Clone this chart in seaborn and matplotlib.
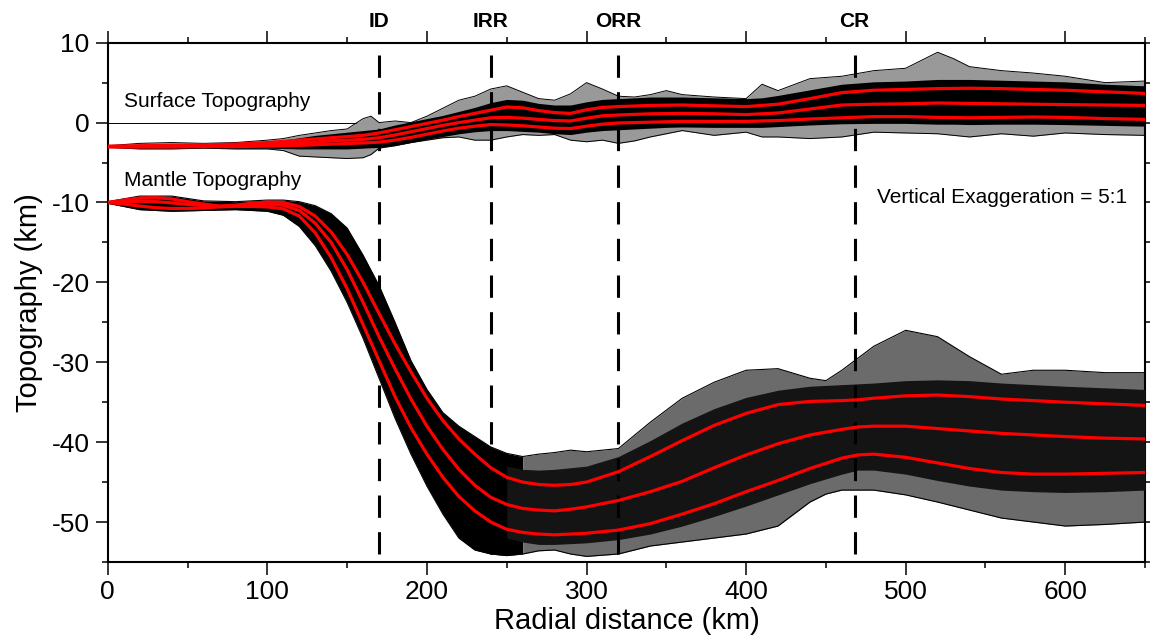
import numpy as np
import pandas as pd
import matplotlib
matplotlib.use("Agg")
import matplotlib.pyplot as plt
import matplotlib.transforms as mtransforms
import seaborn as sns

# ---- mantle topography: mean and +/- 1 sigma (red curves) ----
mantle_x = [0, 10, 20, 30, 40, 50, 60, 70, 80, 90, 100, 110, 120, 130, 140, 150, 160, 170,
            180, 190, 200, 210, 220, 230, 240, 250, 260, 270, 280, 290, 300, 320, 340, 360,
            380, 400, 420, 440, 460, 470, 480, 500, 520, 540, 560, 580, 600, 625, 650]
mantle_upper = [-10.0, -9.7, -9.45, -9.4, -9.55, -9.9, -10.2, -10.45, -10.35, -10.1, -9.95,
                -10.0, -10.5, -11.7, -13.7, -16.5, -20.0, -23.9, -27.7, -31.2, -34.5, -37.3,
                -39.6, -41.5, -43.2, -44.4, -45.0, -45.3, -45.4, -45.3, -45.0, -43.7, -41.8,
                -39.8, -37.9, -36.4, -35.3, -34.9, -34.8, -34.7, -34.5, -34.2, -34.1, -34.3,
                -34.6, -34.8, -35.0, -35.2, -35.4]
mantle_mean = [-10.0, -9.9, -9.85, -9.9, -10.05, -10.25, -10.4, -10.5, -10.4, -10.25, -10.2,
               -10.35, -11.0, -12.6, -15.0, -18.4, -22.5, -26.8, -30.8, -34.6, -38.0, -40.9,
               -43.4, -45.4, -46.9, -47.8, -48.3, -48.5, -48.6, -48.4, -48.1, -47.3, -46.2,
               -44.9, -43.2, -41.6, -40.2, -39.1, -38.4, -38.1, -38.0, -38.0, -38.3, -38.6,
               -38.9, -39.1, -39.3, -39.5, -39.6]
mantle_lower = [-10.0, -10.2, -10.45, -10.65, -10.75, -10.75, -10.7, -10.55, -10.5, -10.5,
                -10.55, -10.8, -11.7, -13.8, -16.9, -20.8, -25.3, -29.8, -34.3, -38.2, -41.5,
                -44.4, -46.8, -48.6, -50.0, -50.9, -51.3, -51.5, -51.6, -51.5, -51.4, -51.0,
                -50.2, -49.0, -47.7, -46.2, -44.8, -43.3, -42.0, -41.6, -41.5, -41.9, -42.6,
                -43.3, -43.8, -44.0, -44.0, -43.9, -43.8]

# ---- mantle ensemble: full spread of the individual models ----
mantle_env_x = [0, 20, 40, 60, 80, 100, 110, 120, 130, 140, 150, 160, 170, 180, 190, 200, 210,
                220, 230, 240, 250, 260, 270, 280, 290, 300, 320, 340, 360, 380, 400, 420, 440,
                450, 460, 480, 500, 520, 540, 560, 580, 600, 625, 650]
mantle_env_min = [-10.1, -10.9, -11.1, -11.0, -10.9, -11.1, -11.6, -13.0, -15.4, -18.6, -22.5,
                  -27.0, -32.0, -37.0, -41.5, -45.5, -49.0, -52.0, -53.5, -54.0, -54.2, -54.0,
                  -53.6, -53.5, -54.0, -54.3, -54.0, -53.0, -52.5, -52.0, -51.5, -50.5, -47.5,
                  -46.5, -46.0, -46.0, -46.6, -47.5, -48.5, -49.5, -50.0, -50.5, -50.3, -50.0]
mantle_env_max = [-9.9, -9.2, -9.2, -9.8, -9.9, -9.7, -9.7, -9.9, -10.4, -11.4, -13.2, -16.6,
                  -20.4, -25.0, -29.8, -33.4, -36.3, -38.0, -39.3, -40.6, -41.4, -41.8, -41.5,
                  -41.3, -41.0, -41.2, -40.8, -37.5, -34.5, -32.5, -31.0, -30.8, -32.0, -32.3,
                  -31.0, -28.0, -26.0, -26.8, -29.3, -31.5, -31.0, -31.0, -31.3, -31.3]
# densest part of the mantle ensemble beyond the slope
mantle_core_x = [250, 260, 270, 280, 290, 300, 320, 340, 360, 380, 400, 420, 440, 460, 470,
                 480, 500, 520, 540, 560, 580, 600, 625, 650]
mantle_core_lo = [-52.0, -52.5, -52.8, -52.8, -52.7, -52.6, -52.2, -51.5, -50.5, -49.3, -48.0,
                  -46.6, -45.2, -44.0, -43.5, -43.5, -44.0, -44.8, -45.5, -46.0, -46.2, -46.3,
                  -46.2, -46.0]
mantle_core_hi = [-43.0, -43.4, -43.5, -43.4, -43.2, -43.0, -41.8, -39.8, -37.6, -35.8, -34.4,
                  -33.5, -33.0, -32.8, -32.7, -32.6, -32.3, -32.2, -32.3, -32.6, -32.8, -33.0,
                  -33.2, -33.4]

# ---- surface topography: mean and +/- 1 sigma ----
surf_x = [0, 20, 40, 60, 80, 100, 120, 140, 160, 170, 180, 190, 200, 210, 220, 230, 240, 250,
          260, 270, 280, 290, 300, 310, 320, 340, 360, 380, 400, 420, 440, 460, 480, 500, 520,
          540, 560, 580, 600, 625, 650]
surf_upper = [-2.95, -2.9, -2.85, -2.8, -2.7, -2.5, -2.2, -1.9, -1.6, -1.3, -0.9, -0.5, -0.1,
              0.3, 0.75, 1.15, 1.55, 1.95, 1.85, 1.5, 1.25, 1.15, 1.6, 1.9, 2.0, 2.15, 2.2, 2.1,
              2.0, 2.3, 3.0, 3.75, 4.05, 4.15, 4.25, 4.3, 4.25, 4.15, 4.05, 3.85, 3.65]
surf_mean = [-3.0, -3.0, -2.95, -2.9, -2.85, -2.75, -2.55, -2.3, -2.1, -1.9, -1.55, -1.15,
             -0.75, -0.35, 0.0, 0.3, 0.6, 0.65, 0.55, 0.4, 0.25, 0.2, 0.55, 0.85, 0.95, 1.1,
             1.15, 1.1, 1.0, 1.2, 1.7, 2.2, 2.3, 2.35, 2.45, 2.4, 2.35, 2.3, 2.25, 2.2, 2.15]
surf_lower = [-3.05, -3.05, -3.05, -3.0, -3.0, -2.95, -2.85, -2.7, -2.55, -2.45, -2.2, -1.85,
              -1.45, -1.05, -0.7, -0.45, -0.25, -0.3, -0.4, -0.55, -0.7, -0.75, -0.45, -0.2,
              -0.05, 0.05, 0.15, 0.15, 0.15, 0.25, 0.45, 0.6, 0.75, 0.75, 0.65, 0.6, 0.65, 0.7,
              0.65, 0.5, 0.4]

# ---- surface ensemble spread and dense core ----
surf_env_x = [0, 20, 40, 60, 80, 100, 110, 120, 130, 140, 150, 160, 165, 170, 180, 190, 200,
              210, 220, 230, 240, 250, 260, 270, 280, 290, 300, 310, 320, 330, 340, 350, 360,
              380, 400, 410, 420, 440, 460, 480, 500, 520, 530, 540, 560, 580, 600, 625, 650]
surf_env_min = [-3.1, -3.3, -3.3, -3.2, -3.3, -3.3, -3.5, -4.2, -4.3, -4.4, -4.5, -4.4, -4.0,
                -3.2, -2.9, -2.5, -2.2, -1.9, -1.8, -2.2, -2.2, -1.8, -1.5, -1.6, -1.5, -2.2,
                -2.4, -2.2, -2.6, -2.3, -1.8, -1.4, -1.0, -1.6, -1.2, -1.8, -1.8, -2.0, -1.8,
                -1.2, -1.3, -1.4, -1.6, -1.8, -1.4, -1.7, -1.3, -1.5, -1.6]
surf_env_max = [-2.9, -2.6, -2.5, -2.6, -2.5, -2.2, -2.0, -1.6, -1.3, -1.0, -0.8, 0.5, 0.8,
                0.0, 0.2, 0.0, 0.8, 1.8, 2.8, 3.3, 4.2, 4.6, 3.8, 3.0, 2.8, 3.6, 5.0, 4.2, 3.3,
                3.2, 3.5, 4.0, 3.5, 3.2, 3.0, 4.8, 4.0, 5.5, 5.8, 6.5, 6.8, 8.8, 8.0, 7.0, 6.5,
                6.2, 5.8, 5.0, 5.2]
surf_core_lo = [-3.1, -3.2, -3.2, -3.15, -3.2, -3.2, -3.25, -3.3, -3.3, -3.3, -3.3, -3.2,
                -3.15, -3.1, -2.85, -2.5, -2.1, -1.75, -1.4, -1.15, -1.0, -1.0, -1.1, -1.2,
                -1.4, -1.5, -1.2, -1.0, -0.9, -0.8, -0.7, -0.6, -0.55, -0.6, -0.6, -0.6, -0.5,
                -0.3, -0.15, -0.1, -0.1, -0.2, -0.2, -0.25, -0.2, -0.2, -0.25, -0.35, -0.45]
surf_core_hi = [-2.9, -2.75, -2.7, -2.7, -2.6, -2.35, -2.2, -1.9, -1.6, -1.4, -1.2, -1.0,
                -0.9, -0.8, -0.3, 0.1, 0.5, 0.9, 1.4, 1.9, 2.5, 2.9, 2.8, 2.4, 2.2, 2.2, 2.6,
                2.9, 3.0, 3.1, 3.2, 3.2, 3.2, 3.1, 3.0, 3.1, 3.4, 4.1, 4.8, 5.1, 5.2, 5.4, 5.4,
                5.4, 5.3, 5.2, 5.1, 4.8, 4.6]

# ---- features along the profile ----
feature_names = ["ID", "IRR", "ORR", "CR"]
feature_x = [170, 240, 320, 468]

sns.set_theme(style="ticks")
plt.rcParams["font.family"] = ["Liberation Sans", "DejaVu Sans"]
plt.rcParams["axes.unicode_minus"] = False
plt.rcParams.update({"text.color": "black", "axes.labelcolor": "black",
                     "xtick.color": "black", "ytick.color": "black",
                     "axes.edgecolor": "black"})

fig = plt.figure(figsize=(11.5, 6.39), dpi=100)
ax = fig.add_axes([0.0937, 0.1205, 0.9020, 0.8127])

# zero line
ax.plot([0, 650], [0, 0], color="black", lw=0.7, zorder=1)

# mantle ensemble
mx = np.array(mantle_env_x)
ax.fill_between(mx, mantle_env_min, mantle_env_max, where=mx <= 260,
                color="black", lw=0, zorder=2)
ax.fill_between(mx, mantle_env_min, mantle_env_max, where=mx >= 260,
                color="0.42", lw=0, zorder=2)
ax.plot(mantle_env_x, mantle_env_min, color="black", lw=0.8, zorder=2)
ax.plot(mantle_env_x, mantle_env_max, color="black", lw=0.8, zorder=2)
ax.fill_between(mantle_core_x, mantle_core_lo, mantle_core_hi, color="0.08", lw=0, zorder=3)

# surface ensemble
ax.fill_between(surf_env_x, surf_env_min, surf_env_max, color="0.6", lw=0, zorder=2)
ax.plot(surf_env_x, surf_env_min, color="black", lw=0.7, zorder=2)
ax.plot(surf_env_x, surf_env_max, color="black", lw=0.7, zorder=2)
ax.fill_between(surf_env_x, surf_core_lo, surf_core_hi, color="black", lw=0, zorder=3)

# feature markers
lab_tr = mtransforms.blended_transform_factory(ax.transData, ax.transAxes)
for fx, name in zip(feature_x, feature_names):
    ax.plot([fx, fx], [8.5, -55], color="black", lw=2.2,
            linestyle=(0, (7.3, 4.7)), zorder=4, solid_capstyle="butt")
    ax.text(fx, 1.03, name, transform=lab_tr, ha="center", va="baseline",
            fontsize=15, fontweight="bold")

# red statistics curves
rows = []
for name, xs, ys in [("m_up", mantle_x, mantle_upper), ("m_mean", mantle_x, mantle_mean),
                     ("m_low", mantle_x, mantle_lower), ("s_up", surf_x, surf_upper),
                     ("s_mean", surf_x, surf_mean), ("s_low", surf_x, surf_lower)]:
    for xv, yv in zip(xs, ys):
        rows.append((name, xv, yv))
df = pd.DataFrame(rows, columns=["curve", "x", "y"])
sns.lineplot(data=df, x="x", y="y", hue="curve", units="curve", estimator=None,
             palette={c: "#ff0000" for c in df.curve.unique()}, lw=2.3,
             legend=False, ax=ax, zorder=5, sort=False)

ax.text(10, 2.0, "Surface Topography", fontsize=15, va="baseline")
ax.text(10, -8.0, "Mantle Topography", fontsize=15, va="baseline")
ax.text(482, -10.05, "Vertical Exaggeration = 5:1", fontsize=15, va="baseline")

ax.set_xlim(0, 650)
ax.set_ylim(-55, 10)
ax.set_xticks(range(0, 601, 100))
ax.set_xticks(range(0, 651, 50), minor=True)
ax.set_yticks(range(-50, 11, 10))
ax.set_yticks(range(-55, 11, 5), minor=True)
ax.tick_params(which="both", direction="out", top=True, right=True, width=1.1,
               labelsize=19, pad=4, color="black", labelcolor="black")
ax.tick_params(which="major", length=9)
ax.tick_params(which="minor", length=4.5)
for s in ax.spines.values():
    s.set_linewidth(1.5)
    s.set_color("black")
ax.set_xlabel("Radial distance (km)", fontsize=21, labelpad=2)
ax.set_ylabel("Topography (km)", fontsize=21, labelpad=6)

fig.savefig("out.png", dpi=100)
